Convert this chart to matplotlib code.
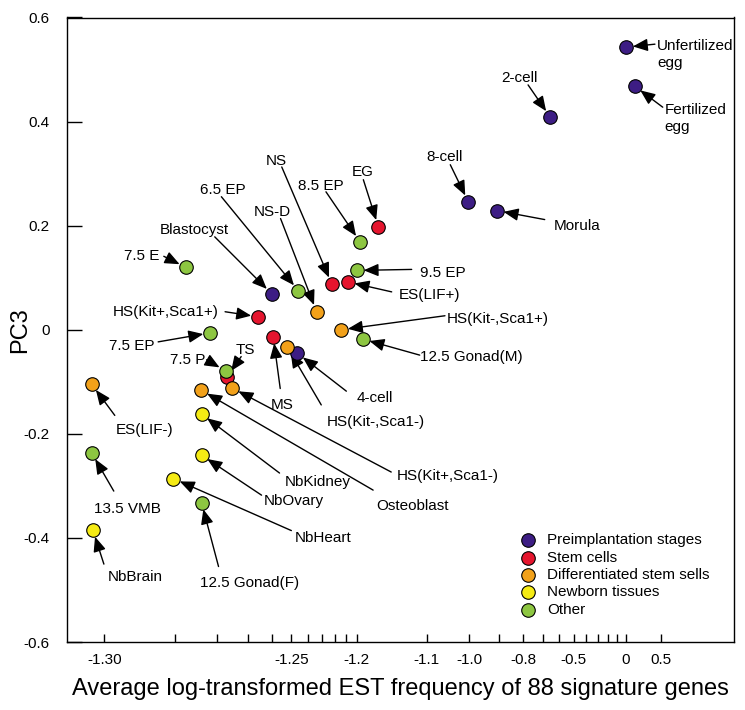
import matplotlib

matplotlib.use("Agg")
import matplotlib.pyplot as plt
import numpy as np

plt.rcParams["font.family"] = ["Liberation Sans", "DejaVu Sans"]

# x の目盛りは log(x + 1.311) 間隔で刻まれている
X_SHIFT = 1.311

pre_names = ["Unfertilized egg", "Fertilized egg", "2-cell", "4-cell", "8-cell", "Morula", "Blastocyst"]
pre_x = [0.0, 0.11, -0.657, -1.2465, -1.002, -0.910, -1.260]
pre_y = [0.543, 0.468, 0.409, -0.045, 0.246, 0.229, 0.069]

stem_names = ["EG", "NS", "ES(LIF+)", "HS(Kit+,Sca1+)", "MS", "TS"]
stem_x = [-1.1755, -1.2226, -1.2087, -1.2660, -1.2593, -1.2771]
stem_y = [0.198, 0.088, 0.092, 0.025, -0.013, -0.090]

diff_names = ["NS-D", "HS(Kit-,Sca1+)", "HS(Kit-,Sca1-)", "ES(LIF-)", "Osteoblast", "HS(Kit+,Sca1-)"]
diff_x = [-1.2341, -1.2148, -1.2522, -1.3012, -1.2843, -1.2755]
diff_y = [0.035, 0.0, -0.033, -0.105, -0.116, -0.112]

nb_names = ["NbKidney", "NbOvary", "NbHeart", "NbBrain"]
nb_x = [-1.2842, -1.2842, -1.2903, -1.3011]
nb_y = [-0.162, -0.241, -0.286, -0.385]

other_names = ["7.5 E", "6.5 EP", "8.5 EP", "9.5 EP", "7.5 EP", "7.5 P",
               "12.5 Gonad(M)", "13.5 VMB", "12.5 Gonad(F)"]
other_x = [-1.2878, -1.2459, -1.1965, -1.1999, -1.2820, -1.2776, -1.1936, -1.3012, -1.2842]
other_y = [0.120, 0.075, 0.169, 0.114, -0.006, -0.079, -0.018, -0.237, -0.332]

groups = [
    ("Preimplantation stages", "#3d1d84", pre_names, pre_x, pre_y),
    ("Stem cells", "#e5152e", stem_names, stem_x, stem_y),
    ("Differentiated stem sells", "#f2a11a", diff_names, diff_x, diff_y),
    ("Newborn tissues", "#f5eb14", nb_names, nb_x, nb_y),
    ("Other", "#8dc641", other_names, other_x, other_y),
]

xtick_vals = [-1.30, -1.25, -1.2, -1.1, -1.0, -0.8, -0.5, 0, 0.5]
xtick_labels = ["-1.30", "-1.25", "-1.2", "-1.1", "-1.0", "-0.8", "-0.5", "0", "0.5"]
xminor_vals = [-1.29, -1.28, -1.27, -1.26, -1.24, -1.23, -1.22, -1.21,
               -0.9, -0.7, -0.6, -0.4, -0.3, -0.2, -0.1]
ytick_vals = [0.6, 0.4, 0.2, 0, -0.2, -0.4, -0.6]
ytick_labels = ["0.6", "0.4", "0.2", "0", "-0.2", "-0.4", "-0.6"]

# ラベル配置(点からのピクセルオフセット): 文字位置, 矢印の根元, 揃え
label_layout = {
    "Unfertilized egg": (31, -7, 29, 3, "left"),
    "Fertilized egg": (30, -32, 28, -21, "left"),
    "2-cell": (-31, 39, -22, 32, "center"),
    "8-cell": (-24, 45, -18, 37, "center"),
    "Morula": (80, -15, 48, -9, "center"),
    "Blastocyst": (-77, 64, -57, 57, "center"),
    "4-cell": (77, -45, 49, -38, "center"),
    "EG": (-16, 55, -15, 47, "center"),
    "NS": (-55, 123, -50, 117, "center"),
    "ES(LIF+)": (51, -13, 44, -10, "left"),
    "HS(Kit+,Sca1+)": (-39, 5, -33, 5, "right"),
    "MS": (9, -68, 7, -52, "center"),
    "TS": (18, 27, 14, 20, "center"),
    "NS-D": (-44, 100, -36, 93, "center"),
    "HS(Kit-,Sca1+)": (106, 11, 104, 14, "left"),
    "HS(Kit-,Sca1-)": (89, -75, 34, -58, "center"),
    "ES(LIF-)": (53, -46, 23, -31, "center"),
    "Osteoblast": (211, -116, 172, -100, "center"),
    "HS(Kit+,Sca1-)": (216, -88, 159, -84, "center"),
    "NbKidney": (116, -68, 78, -59, "center"),
    "NbOvary": (92, -46, 60, -40, "center"),
    "NbHeart": (150, -59, 118, -52, "center"),
    "NbBrain": (42, -47, 11, -34, "center"),
    "7.5 E": (-26, 11, -22, 11, "right"),
    "6.5 EP": (-76, 101, -77, 94, "center"),
    "8.5 EP": (-39, 56, -34, 50, "center"),
    "9.5 EP": (63, -3, 55, 1, "left"),
    "7.5 EP": (-78, -13, -52, -9, "center"),
    "7.5 P": (-20, 11, -19, 11, "right"),
    "12.5 Gonad(M)": (57, -18, 57, -16, "left"),
    "13.5 VMB": (36, -56, 22, -38, "center"),
    "12.5 Gonad(F)": (48, -80, 17, -64, "center"),
}

fig = plt.figure(figsize=(7.45, 7.10), dpi=100)
ax = fig.add_axes([67.3 / 745, 68 / 710, 667 / 745, 624.5 / 710])
ax.set_xscale(
    "function",
    functions=(lambda x: np.log(np.maximum(x + X_SHIFT, 1e-9)), lambda u: np.exp(u) - X_SHIFT),
)
ax.set_xlim(-1.30317, 2.2283)
ax.set_ylim(-0.6, 0.6)

arrow_style = dict(
    arrowstyle="-|>,head_length=0.9,head_width=0.38",
    color="black",
    lw=1.0,
    shrinkA=0,
    shrinkB=5,
    mutation_scale=10,
)

for legend_name, color, names, xs, ys in groups:
    ax.scatter(xs, ys, s=95, c=color, edgecolors="black", linewidths=0.8,
               zorder=3, label=legend_name)
    for name, x, y in zip(names, xs, ys):
        tdx, tdy, adx, ady, ha = label_layout[name]
        text = name.replace(" egg", "\negg") if name.endswith("ized egg") else name
        ax.annotate("", xy=(x, y), xytext=(adx, ady), textcoords="offset pixels",
                    arrowprops=arrow_style, zorder=2)
        ax.annotate(text, xy=(x, y), xytext=(tdx, tdy), textcoords="offset pixels",
                    ha=ha, va="center", fontsize=11, linespacing=1.3, zorder=4)

ax.xaxis.set_major_locator(matplotlib.ticker.FixedLocator(xtick_vals))
ax.xaxis.set_major_formatter(matplotlib.ticker.FixedFormatter(xtick_labels))
ax.xaxis.set_minor_locator(matplotlib.ticker.FixedLocator(xminor_vals))
ax.xaxis.set_minor_formatter(matplotlib.ticker.NullFormatter())
ax.set_yticks(ytick_vals)
ax.set_yticklabels(ytick_labels)

ax.tick_params(axis="x", which="both", direction="in", length=6, width=1, pad=8, labelsize=11)
ax.tick_params(axis="y", direction="in", length=11, width=1, pad=12.5, labelsize=11)
for s in ax.spines.values():
    s.set_linewidth(1.0)

ax.set_xlabel("Average log-transformed EST frequency of 88 signature genes", fontsize=17)
ax.xaxis.set_label_coords(0.5, -0.058)
ax.set_ylabel("PC3", fontsize=17)
ax.yaxis.set_label_coords(-0.054, 0.5)

ax.legend(loc="upper left", bbox_to_anchor=(0.68, 0.174), frameon=False,
          borderpad=0, borderaxespad=0, handlelength=1.0, handletextpad=0.7,
          labelspacing=0.22, fontsize=11)

fig.savefig("out.png", dpi=100)
